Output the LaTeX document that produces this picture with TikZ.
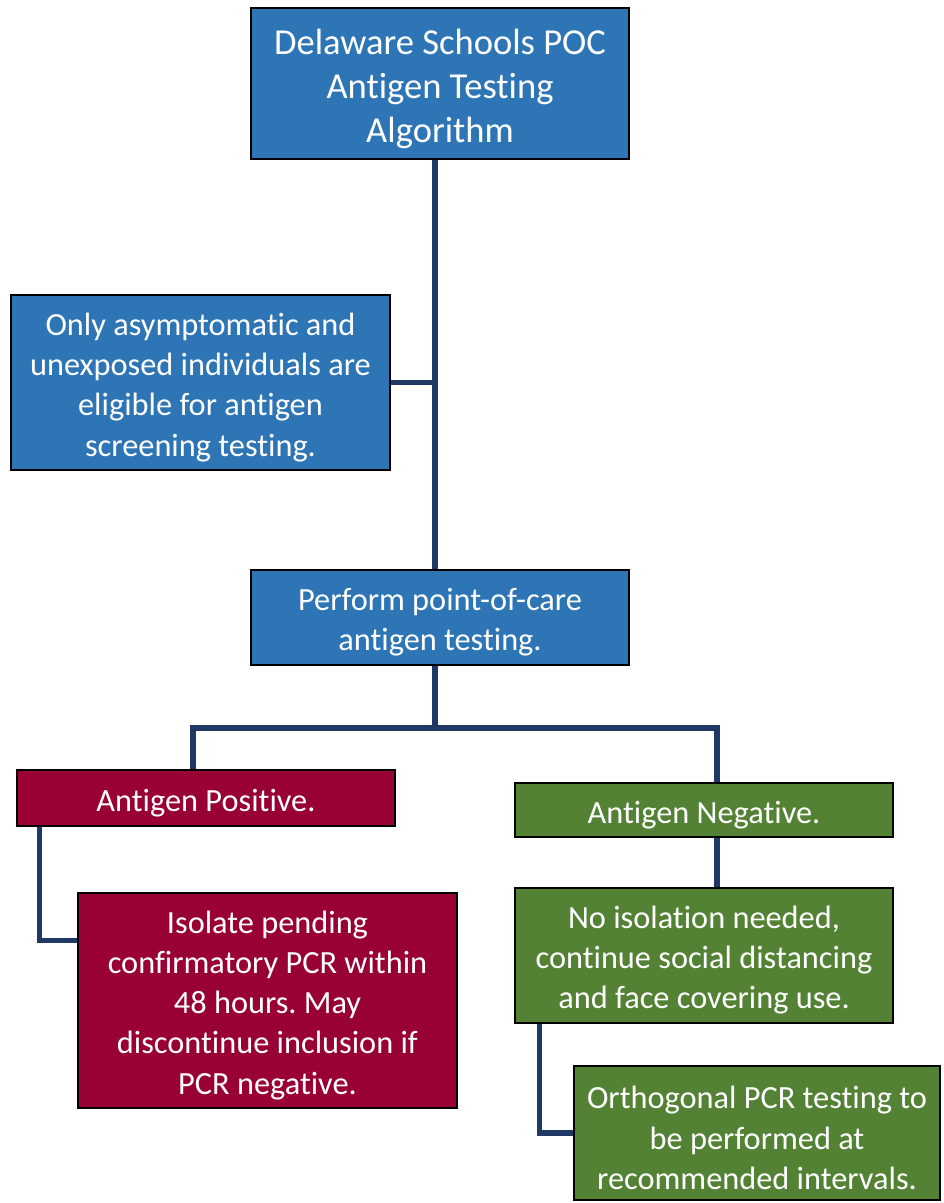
\documentclass[tikz,border=0pt]{standalone}
\usepackage{fontspec}
\setmainfont{Carlito}[Ligatures={NoCommon,NoContextual}]
\frenchspacing
\usetikzlibrary{positioning,calc}
\definecolor{BoxBlue}{HTML}{2E75B6}
\definecolor{BoxRed}{HTML}{990033}
\definecolor{BoxGreen}{HTML}{548235}
\definecolor{LinkNavy}{HTML}{203864}
\newcommand{\fstrut}{\rule{0pt}{1.0em}}
\tikzset{
  flowbox/.style={draw=black, line width=1.2pt, text=white, align=center, inner sep=0pt,
    font=\fontsize{23}{28.5}\selectfont},
  bluebox/.style={flowbox, fill=BoxBlue},
  redbox/.style={flowbox, fill=BoxRed},
  greenbox/.style={flowbox, fill=BoxGreen},
  link/.style={draw=LinkNavy, line width=3.6pt}
}
\begin{document}
\begin{tikzpicture}[x=0.025cm, y=-0.025cm]
  \useasboundingbox (0,0) rectangle (943,1203);
  % boxes
  \node[bluebox, minimum width=9.45cm, minimum height=3.775cm,
    font=\fontsize{26}{31.5}\selectfont] (title) at (440,83.5)
    {\fstrut Delaware Schools POC\\Antigen Testing\\Algorithm};
  \node[bluebox, minimum width=9.475cm, minimum height=4.375cm] (elig) at (200.5,382.5)
    {\fstrut Only asymptomatic and\\unexposed individuals are\\eligible for antigen\\screening testing.};
  \node[bluebox, minimum width=9.45cm, minimum height=2.375cm] (perform) at (440,617.5)
    {\fstrut Perform point-of-care\\antigen testing.};
  \node[redbox, minimum width=9.45cm, minimum height=1.4cm] (pos) at (206,798)
    {\fstrut Antigen Positive.};
  \node[greenbox, minimum width=9.45cm, minimum height=1.35cm] (neg) at (704,810)
    {\fstrut Antigen Negative.};
  \node[redbox, minimum width=9.475cm, minimum height=5.375cm] (isolate) at (267.5,1000.5)
    {\fstrut Isolate pending\\confirmatory PCR within\\48 hours. May\\discontinue inclusion if\\PCR negative.};
  \node[greenbox, minimum width=9.45cm, minimum height=3.375cm] (noiso) at (704,955.5)
    {\fstrut No isolation needed,\\continue social distancing\\and face covering use.};
  \node[greenbox, minimum width=9.15cm, minimum height=3.35cm] (ortho) at (757,1133)
    {\fstrut Orthogonal PCR testing to\\be performed at\\recommended intervals.};
  % connectors
  \coordinate (trunk) at (435,0);
  \coordinate (fork) at (435,728);
  \draw[link] (title.south -| trunk) -- (perform.north -| trunk);
  \draw[link] (elig.east) -- (elig.east -| trunk);
  \draw[link] (perform.south -| trunk) -- (fork);
  \draw[link] ([xshift=-0.325cm]pos.north) |- (fork) -| ([xshift=0.325cm]neg.north);
  \draw[link] ([xshift=0.575cm]pos.south west) |- ([yshift=1.5cm]isolate.west);
  \draw[link] ([xshift=0.325cm]neg.south) -- ([xshift=0.325cm]noiso.north);
  \draw[link] ([xshift=0.625cm]noiso.south west) |- (ortho.west);
\end{tikzpicture}
\end{document}
